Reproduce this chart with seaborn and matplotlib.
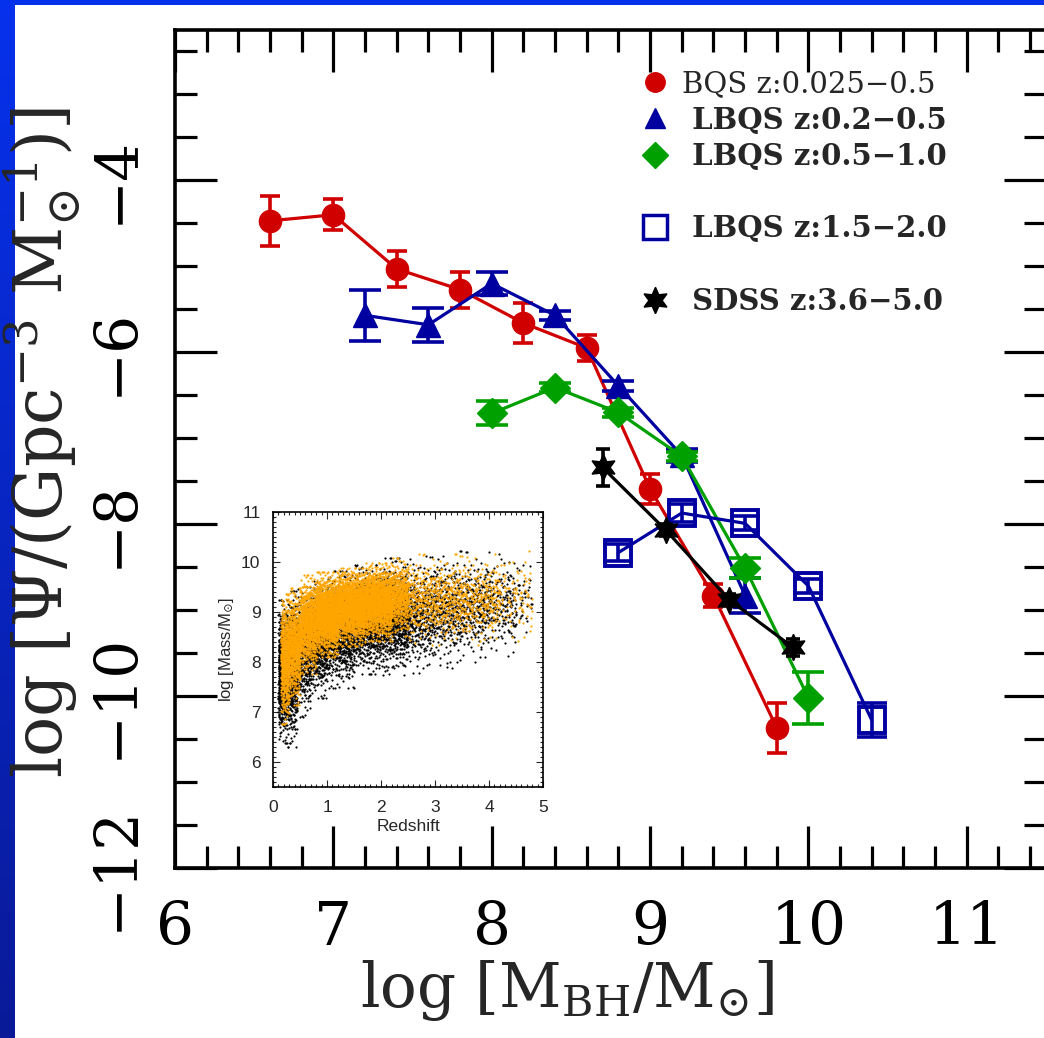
import numpy as np
import pandas as pd
import matplotlib
matplotlib.use("Agg")
import matplotlib.pyplot as plt
from matplotlib.lines import Line2D
from matplotlib.patches import Rectangle
from matplotlib.ticker import MultipleLocator
import seaborn as sns

# ---------------- data ----------------
# BQS z:0.025-0.5
bqs_logm = [6.6, 7.0, 7.4, 7.8, 8.2, 8.6, 9.0, 9.4, 9.8]
bqs_logpsi = [-4.47, -4.40, -5.03, -5.27, -5.66, -5.95, -7.59, -8.83, -10.37]
bqs_err = [0.29, 0.18, 0.21, 0.21, 0.23, 0.15, 0.17, 0.13, 0.29]

# LBQS z:0.2-0.5
lbqs1_logm = [7.2, 7.6, 8.0, 8.4, 8.8, 9.2, 9.6]
lbqs1_logpsi = [-5.57, -5.68, -5.20, -5.57, -6.39, -7.20, -8.83]
lbqs1_err = [0.30, 0.20, 0.13, 0.05, 0.06, 0.08, 0.20]

# LBQS z:0.5-1.0
lbqs2_logm = [8.0, 8.4, 8.8, 9.2, 9.6, 10.0]
lbqs2_logpsi = [-6.71, -6.41, -6.70, -7.21, -8.51, -10.02]
lbqs2_err = [0.14, 0.05, 0.05, 0.05, 0.12, 0.30]

# LBQS z:1.5-2.0
lbqs3_logm = [8.8, 9.2, 9.6, 10.0, 10.4]
lbqs3_logpsi = [-8.33, -7.87, -7.99, -8.72, -10.28]
lbqs3_err = [0.10, 0.10, 0.08, 0.08, 0.20]

# SDSS z:3.6-5.0
sdss_logm = [8.7, 9.1, 9.5, 9.9]
sdss_logpsi = [-7.34, -8.07, -8.88, -9.43]
sdss_err = [0.22, 0.07, 0.07, 0.10]

# inset: redshift bins with centre / spread of log mass and counts
blk_zlo = [0.10, 0.25, 0.45, 0.70, 1.00, 1.50, 2.00, 2.50, 3.00, 3.50, 4.00, 4.50]
blk_zhi = [0.25, 0.45, 0.70, 1.00, 1.50, 2.00, 2.50, 3.00, 3.50, 4.00, 4.50, 4.80]
blk_mc = [7.8, 7.85, 8.2, 8.45, 8.65, 8.85, 8.9, 8.95, 9.05, 9.1, 9.15, 9.3]
blk_ms = [0.55, 0.60, 0.50, 0.45, 0.45, 0.42, 0.45, 0.45, 0.45, 0.42, 0.40, 0.35]
blk_n = [650, 600, 450, 600, 900, 900, 800, 380, 300, 250, 170, 40]

org_zlo = [0.15, 0.30, 0.50, 0.80, 1.20, 1.70, 2.20, 2.50, 3.00, 3.60, 4.20]
org_zhi = [0.30, 0.50, 0.80, 1.20, 1.70, 2.20, 2.50, 3.00, 3.60, 4.20, 4.80]
org_mc = [8.05, 8.3, 8.75, 8.95, 9.1, 9.2, 9.3, 9.25, 9.25, 9.25, 9.3]
org_ms = [0.50, 0.45, 0.38, 0.33, 0.30, 0.30, 0.30, 0.35, 0.35, 0.35, 0.35]
org_n = [650, 650, 900, 1500, 1700, 1500, 450, 260, 300, 230, 90]


def binned_cloud(zlo, zhi, mc, ms, n, offset):
    """Spread each redshift bin's objects with a low-discrepancy sequence."""
    g = 1.2207440846057596
    a = np.array([1 / g, 1 / g ** 2, 1 / g ** 3])
    zs, mass = [], []
    k0 = offset
    for lo, hi, c, s, cnt in zip(zlo, zhi, mc, ms, n):
        k = np.arange(k0, k0 + cnt)[:, None]
        u = (0.5 + k * a) % 1.0
        k0 += cnt
        r = np.sqrt(-2 * np.log(np.clip(u[:, 1], 1e-4, 1)))
        gauss = r * np.cos(2 * np.pi * u[:, 2])
        zs.append(lo + (hi - lo) * u[:, 0])
        mass.append(c + s * np.clip(gauss, -2.6, 2.6))
    return pd.DataFrame({"z": np.concatenate(zs), "m": np.concatenate(mass)})


# ---------------- style ----------------
sns.set_theme(style="white")
plt.rcParams["font.family"] = ["DejaVu Serif"]
plt.rcParams["mathtext.fontset"] = "dejavuserif"

RED = "#d00000"
BLUE = "#0000a0"
GREEN = "#00a000"
BLACK = "#000000"

W, H = 1044, 1038
fig = plt.figure(figsize=(W / 100, H / 100), dpi=100)

# blue slide frame behind a white panel
bg = fig.add_axes([0, 0, 1, 1], zorder=-10)
grad = np.linspace(0, 1, 256)[:, None]
cmap = matplotlib.colors.LinearSegmentedColormap.from_list("frame", ["#0631ec", "#0a1a98"])
bg.imshow(grad, aspect="auto", cmap=cmap, extent=[0, 1, 0, 1], origin="upper")
bg.add_patch(Rectangle((15 / W, 0), 1, 1 - 5 / H, color="white", lw=0))
bg.set_xlim(0, 1)
bg.set_ylim(0, 1)
bg.axis("off")

ax = fig.add_axes([175 / W, 170 / H, (1046 - 175) / W, (868 - 30) / H])
ax.set_facecolor("white")

series = [
    (bqs_logm, bqs_logpsi, bqs_err, RED, "o", 16, RED, 7.5),
    (lbqs1_logm, lbqs1_logpsi, lbqs1_err, BLUE, "^", 17, BLUE, 11.5),
    (lbqs2_logm, lbqs2_logpsi, lbqs2_err, GREEN, "D", 15, GREEN, 11.5),
    (lbqs3_logm, lbqs3_logpsi, lbqs3_err, BLUE, "s", 19, "none", 11),
    (sdss_logm, sdss_logpsi, sdss_err, BLACK, (6, 1, 0), 19, BLACK, 5),
]

for i, (xv, yv, ev, col, mk, msz, fc, cap) in enumerate(series):
    z = 3 + i
    ax.errorbar(xv, yv, yerr=ev, fmt="none", ecolor=col, elinewidth=2.6,
                capsize=cap, capthick=2.6, zorder=z)
    sns.lineplot(x=xv, y=yv, ax=ax, color=col, lw=2.3, sort=False,
                 marker=mk, markersize=msz, markerfacecolor=fc,
                 markeredgecolor=col, markeredgewidth=2.8 if fc == "none" else 1,
                 zorder=z, legend=False)

ax.set_xlim(6, 11.5)
ax.set_ylim(-12, -2.25)
ax.xaxis.set_major_locator(MultipleLocator(1))
ax.xaxis.set_minor_locator(MultipleLocator(0.2))
ax.yaxis.set_major_locator(MultipleLocator(2))
ax.yaxis.set_minor_locator(MultipleLocator(0.5))
ax.set_yticks([-12, -10, -8, -6, -4])
ax.tick_params(which="both", direction="in", top=True, right=True, bottom=True,
               left=True, width=2.3, colors="black", labelsize=43)
ax.tick_params(which="major", length=30, pad=22)
ax.tick_params(which="minor", length=16)
ax.tick_params(axis="y", labelrotation=90)
for lab in ax.get_yticklabels():
    lab.set_verticalalignment("center")
for sp in ax.spines.values():
    sp.set_linewidth(2.6)
    sp.set_color("black")

ax.set_xlabel(r"$\mathrm{log}\ [\mathrm{M_{BH}/M_{\odot}}]$", fontsize=44)
ax.set_ylabel(r"$\mathrm{log}\ [\Psi/(\mathrm{Gpc^{-3}\ M_{\odot}^{-1}})]$", fontsize=48)
ax.xaxis.set_label_coords((567 - 175) / 871, (868 - 958) / 838)
ax.yaxis.set_label_coords((82 - 175) / 871, (868 - 442) / 838)

# legend
blank = Line2D([], [], ls="none", marker=None)
handles = [
    Line2D([], [], ls="none", marker="o", ms=14, color=RED),
    Line2D([], [], ls="none", marker="^", ms=15, color=BLUE),
    Line2D([], [], ls="none", marker="D", ms=13, color=GREEN),
    blank,
    Line2D([], [], ls="none", marker="s", ms=17, mfc="none", mec=BLUE, mew=2.5),
    blank,
    Line2D([], [], ls="none", marker=(6, 1, 0), ms=19, color=BLACK),
]
labels = ["BQS z:0.025\u22120.5", " LBQS z:0.2\u22120.5", " LBQS z:0.5\u22121.0", "",
          " LBQS z:1.5\u22122.0", "", " SDSS z:3.6\u22125.0"]
leg = ax.legend(handles, labels, loc="upper left", bbox_to_anchor=(0.534, 0.952),
                frameon=False, fontsize=21, handlelength=1.0, handletextpad=0.45,
                labelspacing=0.25, borderpad=0, borderaxespad=0)
for t in leg.get_texts()[1:]:
    t.set_fontweight("bold")

# inset: black hole mass vs redshift
ins = fig.add_axes([273 / W, (H - 787) / H, (543 - 273) / W, (787 - 512) / H])
ins.set_facecolor("white")
blk = binned_cloud(blk_zlo, blk_zhi, blk_mc, blk_ms, blk_n, 1)
org = binned_cloud(org_zlo, org_zhi, org_mc, org_ms, org_n, 20001)
sns.scatterplot(data=blk, x="z", y="m", ax=ins, s=2.5, color="black", linewidth=0, legend=False)
sns.scatterplot(data=org, x="z", y="m", ax=ins, s=2.5, color="#ffa500", linewidth=0, legend=False)
ins.set_xlim(0, 5)
ins.set_ylim(5.5, 11)
ins.xaxis.set_major_locator(MultipleLocator(1))
ins.xaxis.set_minor_locator(MultipleLocator(0.1))
ins.yaxis.set_major_locator(MultipleLocator(1))
ins.yaxis.set_minor_locator(MultipleLocator(0.1))
ins.set_yticks([6, 7, 8, 9, 10, 11])
ins.tick_params(which="both", direction="in", top=True, right=True, bottom=True,
                left=True, width=0.8, labelsize=12.5, pad=9)
ins.tick_params(which="major", length=5)
ins.tick_params(which="minor", length=2.5)
for lab in ins.get_xticklabels() + ins.get_yticklabels():
    lab.set_family(["Liberation Sans", "DejaVu Sans"])
for sp in ins.spines.values():
    sp.set_linewidth(1.2)
    sp.set_color("black")
ins.set_xlabel("Redshift", fontsize=12.5, family=["Liberation Sans", "DejaVu Sans"], labelpad=3)
ins.set_ylabel(r"log [Mass/M$_{\odot}$]", fontsize=12,
               family=["Liberation Sans", "DejaVu Sans"], labelpad=4)

fig.savefig("out.png", dpi=100)
